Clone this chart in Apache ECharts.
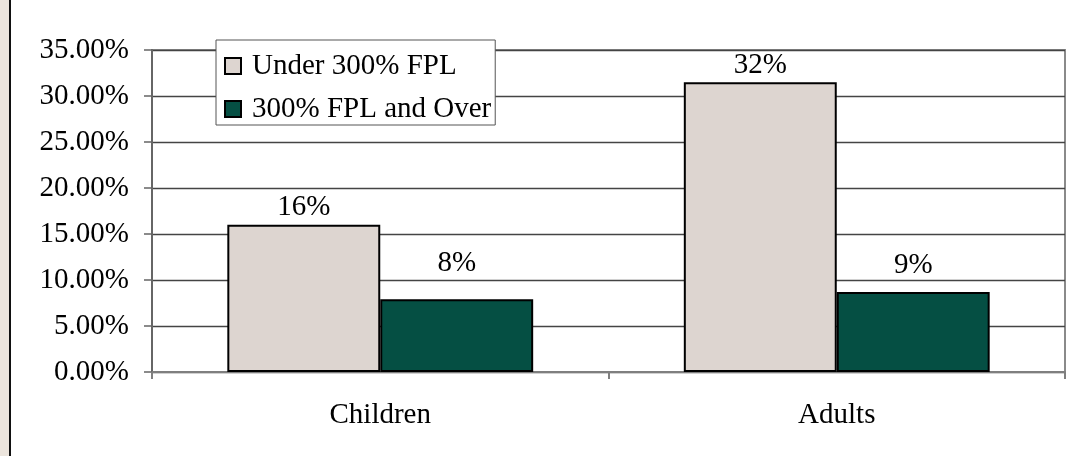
<!DOCTYPE html>
<html>
<head>
<meta charset="utf-8">
<script src="https://cdn.jsdelivr.net/npm/echarts@6/dist/echarts.min.js"></script>
<style>
html,body{margin:0;padding:0;background:#fff;}
#c{width:1066px;height:456px;}
</style>
</head>
<body>
<div id="c"></div>
<script>
const categories = ['Children', 'Adults'];
const seriesNames = ['Under 300% FPL', '300% FPL and Over'];
const under300 = [16.0, 31.5];
const over300 = [7.9, 8.7];
const yTicks = { min: 0, max: 35, interval: 5 };

// label placement (style, not data)
const LABEL_GAP = { under: [3, 2], over: [21, 12] };

const FONT = '"Liberation Serif", "DejaVu Serif", serif';
const FS = 29;
const chart = echarts.init(document.getElementById('c'), null, { renderer: 'canvas' });

const labelCfg = {
  show: true,
  position: 'top',
  distance: 4,
  color: '#000',
  fontFamily: FONT,
  fontSize: FS,
  formatter: p => Math.round(p.value) + '%'
};

function withGaps(values, gaps) {
  return values.map((v, i) => ({ value: v, label: { distance: gaps[i] } }));
}

chart.setOption({
  animation: false,
  backgroundColor: '#fff',
  graphic: [
    { type: 'rect', left: 0, top: 0, shape: { width: 9, height: 456 }, style: { fill: '#ECE5DD' }, silent: true },
    { type: 'rect', left: 9, top: 0, shape: { width: 2, height: 456 }, style: { fill: '#111' }, silent: true }
  ],
  grid: {
    left: 152, right: 1, top: 50, bottom: 84,
    show: true, borderColor: '#8a8a8a', borderWidth: 2, backgroundColor: 'transparent'
  },
  legend: {
    orient: 'vertical',
    left: 216, top: 40,
    backgroundColor: '#fff',
    borderColor: '#555',
    borderWidth: 1,
    padding: [11, 4, 1, 8],
    itemGap: 13,
    itemWidth: 16, itemHeight: 16,
    icon: 'rect',
    itemStyle: { borderColor: '#000', borderWidth: 2 },
    textStyle: { fontFamily: FONT, fontSize: FS, color: '#000', lineHeight: 30, padding: [0, 0, 0, 6] },
    data: seriesNames
  },
  xAxis: {
    type: 'category',
    data: categories,
    axisLine: { lineStyle: { color: '#7f7f7f', width: 2 } },
    axisTick: { show: true, length: 7, lineStyle: { color: '#7f7f7f', width: 2 } },
    axisLabel: { fontFamily: FONT, fontSize: FS, color: '#000', margin: 29 }
  },
  yAxis: {
    type: 'value',
    min: yTicks.min, max: yTicks.max, interval: yTicks.interval,
    axisLine: { show: true, lineStyle: { color: '#666', width: 2 } },
    axisTick: { show: true, length: 8, lineStyle: { color: '#666', width: 1.5 } },
    axisLabel: { fontFamily: FONT, fontSize: FS, color: '#000', margin: 23, formatter: v => v.toFixed(2) + '%' },
    splitLine: { show: true, lineStyle: { color: '#444', width: 1.3 } }
  },
  series: [
    {
      name: seriesNames[0], type: 'bar', data: withGaps(under300, LABEL_GAP.under),
      barGap: '0%', barCategoryGap: '33%',
      itemStyle: { color: '#DDD5D0', borderColor: '#000', borderWidth: 2 },
      label: labelCfg
    },
    {
      name: seriesNames[1], type: 'bar', data: withGaps(over300, LABEL_GAP.over),
      barGap: '0%', barCategoryGap: '33%',
      itemStyle: { color: '#054F43', borderColor: '#000', borderWidth: 2 },
      label: labelCfg
    }
  ]
});
</script>
</body>
</html>
